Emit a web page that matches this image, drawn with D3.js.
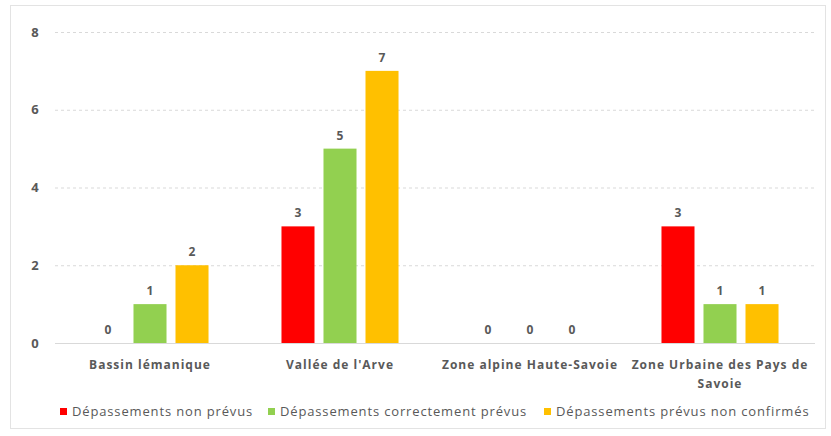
<!DOCTYPE html>
<html>
<head>
<meta charset="utf-8">
<script src="https://cdn.jsdelivr.net/npm/d3@7"></script>
<style>
  body { margin: 0; background: #fff; }
  text { font-family: "Open Sans", "DejaVu Sans", sans-serif; fill: #595959; }
</style>
</head>
<body>
<div id="chart"></div>
<script>
var categories = ["Bassin lémanique", "Vallée de l'Arve", "Zone alpine Haute-Savoie", "Zone Urbaine des Pays de Savoie"];
var seriesNames = ["Dépassements non prévus", "Dépassements correctement prévus", "Dépassements prévus non confirmés"];
var nonPrevus = [0, 3, 0, 3];
var correctementPrevus = [1, 5, 0, 1];
var prevusNonConfirmes = [2, 7, 0, 1];
var yTicks = [0, 2, 4, 6, 8];
var colors = ["#ff0000", "#92d050", "#ffc000"];

var svgWidth = 831, svgHeight = 436;
var margin = { top: 32, right: 16, bottom: 93, left: 55 };
var width = svgWidth - margin.left - margin.right;
var height = svgHeight - margin.top - margin.bottom;

var seriesValues = [nonPrevus, correctementPrevus, prevusNonConfirmes];
var data = categories.map(function(c, i) {
  return { cat: c, vals: seriesValues.map(function(s, j) { return { series: j, value: s[i] }; }) };
});

var svg = d3.select("#chart").append("svg")
  .attr("width", svgWidth)
  .attr("height", svgHeight);

// chart frame
svg.append("rect")
  .attr("x", 10.5).attr("y", 5.5)
  .attr("width", 815).attr("height", 423)
  .attr("fill", "none")
  .attr("stroke", "#e3e3e3");

var g = svg.append("g")
  .attr("transform", `translate(${margin.left}, ${margin.top})`);

var x0 = d3.scaleBand()
  .domain(categories)
  .range([0, width])
  .paddingInner(0.384)
  .paddingOuter(0.192);

var x1 = d3.scaleBand()
  .domain([0, 1, 2])
  .range([0, x0.bandwidth()])
  .paddingInner(0.214);

var y = d3.scaleLinear()
  .domain([0, 8])
  .range([height, 0]);

// gridlines
g.selectAll("line.grid")
  .data(yTicks.filter(function(t) { return t > 0; }))
  .enter().append("line")
  .attr("class", "grid")
  .attr("x1", 0).attr("x2", width)
  .attr("y1", d => y(d) + 0.5).attr("y2", d => y(d) + 0.5)
  .attr("stroke", "#d9d9d9")
  .attr("stroke-dasharray", "3,3");

// y labels
var yAxis = d3.axisLeft(y).tickValues(yTicks).tickSize(0).tickPadding(0);
var yAxisG = g.append("g").call(yAxis);
yAxisG.select(".domain").remove();
yAxisG.selectAll("text")
  .attr("x", -20)
  .attr("text-anchor", "middle")
  .style("font-size", "13px")
  .style("font-weight", "bold");

// bars
var groups = g.selectAll("g.cat")
  .data(data)
  .enter().append("g")
  .attr("class", "cat")
  .attr("transform", d => `translate(${x0(d.cat)},0)`);

groups.selectAll("rect")
  .data(d => d.vals)
  .enter().append("rect")
  .attr("x", d => x1(d.series))
  .attr("width", x1.bandwidth())
  .attr("y", d => y(d.value))
  .attr("height", d => height - y(d.value))
  .attr("fill", d => colors[d.series]);

groups.selectAll("text.lbl")
  .data(d => d.vals)
  .enter().append("text")
  .attr("class", "lbl")
  .attr("x", d => x1(d.series) + x1.bandwidth() / 2)
  .attr("y", d => y(d.value) - 9)
  .attr("text-anchor", "middle")
  .style("font-size", "12px")
  .style("font-weight", "bold")
  .text(d => d.value);

// baseline
g.append("line")
  .attr("x1", 0).attr("x2", width)
  .attr("y1", height + 0.5).attr("y2", height + 0.5)
  .attr("stroke", "#d9d9d9");

// x axis labels
var xAxis = d3.axisBottom(x0).tickSize(0).tickPadding(0);
var xAxisG = g.append("g")
  .attr("transform", `translate(0,${height})`)
  .call(xAxis);
xAxisG.select(".domain").remove();
xAxisG.selectAll("text").remove();
xAxisG.selectAll(".tick").each(function(d) {
  var t = d3.select(this).append("text")
    .attr("text-anchor", "middle")
    .attr("y", 26)
    .style("font-size", "12px")
    .style("font-weight", "bold")
    .style("letter-spacing", "1px");
  var lines = d === "Zone Urbaine des Pays de Savoie" ? ["Zone Urbaine des Pays de", "Savoie"] : [d];
  lines.forEach(function(l, i) {
    t.append("tspan").attr("x", 0).attr("dy", i === 0 ? 0 : 19).text(l);
  });
});

// legend
var legendX = [60, 268, 544];
var legend = svg.selectAll("g.legend")
  .data(seriesNames)
  .enter().append("g")
  .attr("class", "legend")
  .attr("transform", (d, i) => `translate(${legendX[i]}, 412)`);

legend.append("rect")
  .attr("x", 0).attr("y", -4)
  .attr("width", 7).attr("height", 7)
  .attr("fill", (d, i) => colors[i]);

legend.append("text")
  .attr("x", 12)
  .attr("y", 4)
  .style("font-size", "13px")
  .style("letter-spacing", "0.85px")
  .text(d => d);
</script>
</body>
</html>
